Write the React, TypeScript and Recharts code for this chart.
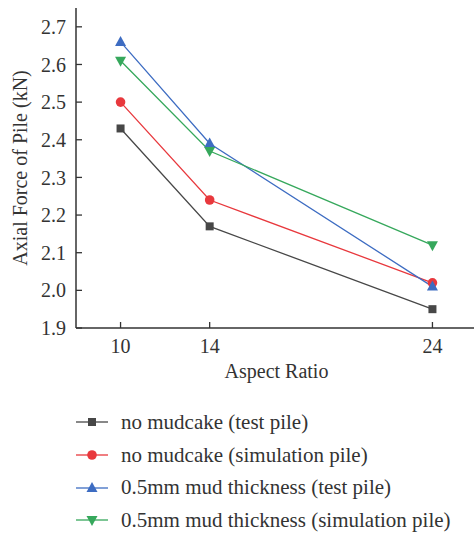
import React from 'react';
import { LineChart, Line, XAxis, YAxis, Legend } from 'recharts';

const ratios = [10, 14, 24];
const noMudTest = [2.43, 2.17, 1.95];
const noMudSim = [2.5, 2.24, 2.02];
const mudTest = [2.66, 2.39, 2.01];
const mudSim = [2.61, 2.37, 2.12];

const xTicks = [10, 14, 24];
const yMajorTicks = [1.9, 2.0, 2.1, 2.2, 2.3, 2.4, 2.5, 2.6, 2.7];
const yMinorTicks = [1.95, 2.05, 2.15, 2.25, 2.35, 2.45, 2.55, 2.65];

type Shape = 'square' | 'circle' | 'up' | 'down';

const series: { key: string; name: string; color: string; shape: Shape; values: number[] }[] = [
  { key: 'noMudTest', name: 'no mudcake (test pile)', color: '#474747', shape: 'square', values: noMudTest },
  { key: 'noMudSim', name: 'no mudcake (simulation pile)', color: '#e8383d', shape: 'circle', values: noMudSim },
  { key: 'mudTest', name: '0.5mm mud thickness (test pile)', color: '#3d6cc2', shape: 'up', values: mudTest },
  { key: 'mudSim', name: '0.5mm mud thickness (simulation pile)', color: '#36a85c', shape: 'down', values: mudSim },
];

const data = ratios.map((r, i) => {
  const row: Record<string, number> = { ratio: r };
  series.forEach(s => { row[s.key] = s.values[i]; });
  return row;
});

function Marker({ cx, cy, shape, color }: { cx: number; cy: number; shape: Shape; color: string }) {
  if (cx == null || cy == null) return null;
  if (shape === 'square') return <rect x={cx - 4} y={cy - 4} width={8} height={8} fill={color} />;
  if (shape === 'circle') return <circle cx={cx} cy={cy} r={4.8} fill={color} />;
  if (shape === 'up') return <polygon points={`${cx},${cy - 6} ${cx - 5.5},${cy + 4} ${cx + 5.5},${cy + 4}`} fill={color} />;
  return <polygon points={`${cx},${cy + 6} ${cx - 5.5},${cy - 4} ${cx + 5.5},${cy - 4}`} fill={color} />;
}

const axisColor = '#333';
const textColor = '#333';

function LegendBox() {
  return (
    <div>
      {series.map(s => (
        <div key={s.key} style={{ display: 'flex', alignItems: 'center', height: 32.7 }}>
          <svg width={32} height={14} style={{ marginRight: 13 }}>
            <line x1={0} y1={7} x2={32} y2={7} stroke={s.color} strokeWidth={1.3} />
            <Marker cx={16} cy={7} shape={s.shape} color={s.color} />
          </svg>
          <span style={{ fontSize: 21, color: textColor, whiteSpace: 'nowrap' }}>{s.name}</span>
        </div>
      ))}
    </div>
  );
}

export default function App() {
  return (
    <div style={{ position: 'absolute', left: 0, top: 0, width: 474, height: 534, overflow: 'hidden', fontFamily: '"Liberation Serif", serif', background: '#fff' }}>
      <LineChart width={480} height={534} data={data} margin={{ top: 8, right: 3, bottom: 156, left: 0 }}>
        <XAxis
          xAxisId="top"
          orientation="top"
          type="number"
          dataKey="ratio"
          domain={[8, 26]}
          height={0}
          tick={false}
          tickLine={false}
          axisLine={{ stroke: axisColor, strokeWidth: 1.5 }}
        />
        <XAxis
          type="number"
          dataKey="ratio"
          domain={[8, 26]}
          ticks={xTicks}
          height={50}
          tickSize={-6}
          tickMargin={17}
          tick={{ fontSize: 20, fill: textColor }}
          tickLine={{ stroke: axisColor, strokeWidth: 1.3 }}
          axisLine={{ stroke: axisColor, strokeWidth: 1.5 }}
          label={{ value: 'Aspect Ratio', position: 'insideBottom', offset: 0, style: { fontSize: 20, fill: textColor } }}
        />
        <YAxis
          yAxisId="minor"
          type="number"
          domain={[1.9, 2.75]}
          ticks={yMinorTicks}
          width={0}
          tick={false}
          tickSize={-3}
          tickLine={{ stroke: axisColor, strokeWidth: 1.3 }}
          axisLine={false}
          allowDataOverflow
        />
        <YAxis
          type="number"
          domain={[1.9, 2.75]}
          ticks={yMajorTicks}
          width={76}
          tickSize={-6}
          tickMargin={16}
          tickFormatter={(v: number) => v.toFixed(1)}
          tick={{ fontSize: 20, fill: textColor }}
          tickLine={{ stroke: axisColor, strokeWidth: 1.3 }}
          axisLine={{ stroke: axisColor, strokeWidth: 1.5 }}
          allowDataOverflow
          label={{ value: 'Axial Force of Pile (kN)', angle: -90, position: 'insideLeft', offset: 20, style: { fontSize: 20, fill: textColor, textAnchor: 'middle' } }}
        />
        <Legend
          layout="vertical"
          align="center"
          verticalAlign="middle"
          wrapperStyle={{ left: 76, top: 406, width: 400, height: 131 }}
          content={() => <LegendBox />}
        />
        {series.map(s => (
          <Line
            key={s.key}
            dataKey={s.key}
            name={s.name}
            type="linear"
            stroke={s.color}
            strokeWidth={1.3}
            dot={(p: any) => <Marker key={`${s.key}-${p.index}`} cx={p.cx} cy={p.cy} shape={s.shape} color={s.color} />}
            activeDot={false}
            isAnimationActive={false}
          />
        ))}
      </LineChart>
    </div>
  );
}
